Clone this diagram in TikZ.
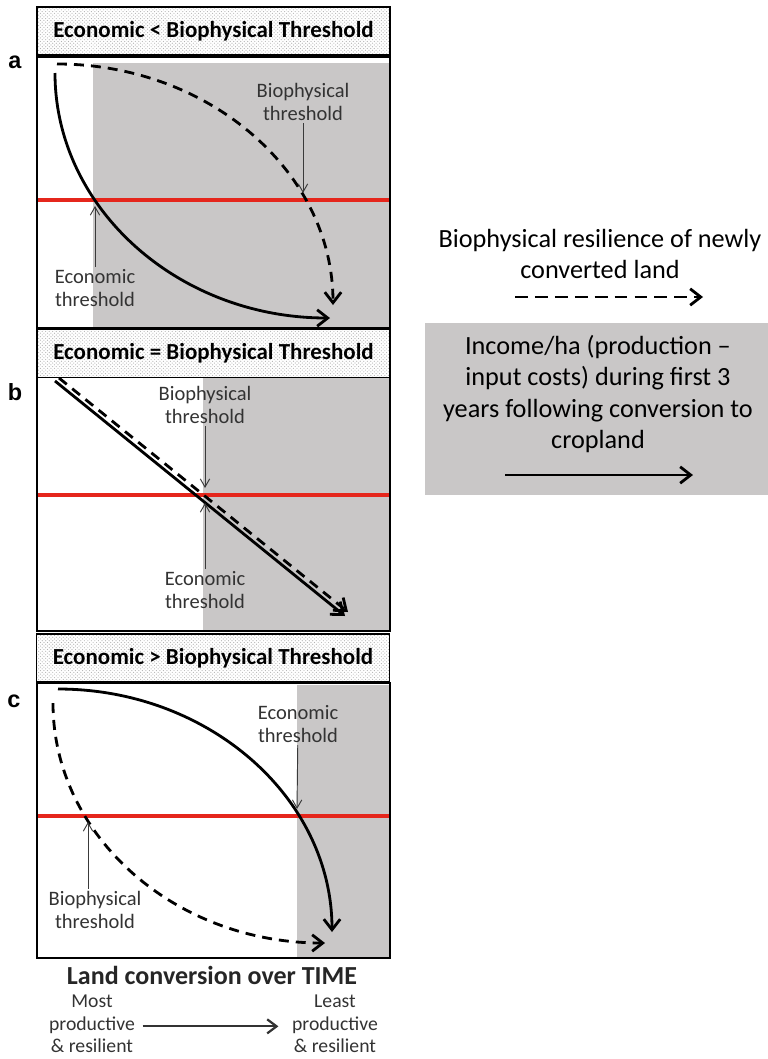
\documentclass[tikz,border=0pt]{standalone}
\usepackage{fontspec}
\setmainfont{Carlito}
\newfontfamily\letterfont{Liberation Sans}
\usetikzlibrary{arrows.meta,positioning,patterns}
\definecolor{cshade}{HTML}{C9C7C7}
\definecolor{cthresh}{HTML}{E5261C}
\definecolor{cpointer}{HTML}{3A3A3A}
\definecolor{clabel}{HTML}{333333}

\begin{document}
\begin{tikzpicture}[
    x=0.03cm, y=-0.03cm,
    titlebox/.style={draw=black, line width=1.6pt, preaction={fill=white},
                     pattern=crosshatch dots, pattern color=black!30,
                     minimum width=10.59cm, minimum height=1.44cm,
                     font=\fontsize{19.6}{22}\selectfont\bfseries},
    panel/.style={draw=black, line width=1.6pt},
    thresh/.style={draw=cthresh, line width=3pt},
    income/.style={-{Straight Barb[length=9pt,width=14pt]}, line width=2.4pt},
    resil/.style={income, dash pattern=on 8.5pt off 6pt},
    ptr/.style={-{Straight Barb[length=7pt,width=8pt]}, draw=cpointer, line width=0.8pt},
    lbl/.style={align=center, text=clabel, inner sep=2pt,
                font=\fontsize{17.5}{19.5}\selectfont},
    letter/.style={font=\letterfont\bfseries\fontsize{20}{22}\selectfont},
    legtext/.style={align=center, font=\fontsize{22.4}{26.6}\selectfont},
    axis/.style={font=\fontsize{22.2}{24}\selectfont\bfseries, text=black!85},
    ends/.style={align=center, text=clabel, inner sep=0.5pt,
                 font=\fontsize{16.8}{19}\selectfont}
]
\useasboundingbox (0,0) rectangle (768,1059);

% panel a
\fill[cshade] (93,63) rectangle (389,327);
\draw[thresh] (38,200) -- (389,200);
\coordinate (sa1) at (55,73);
\coordinate (ea1) at (330,318);
\draw[income] (sa1) .. controls (55,208) and (178,318) .. (ea1);
\coordinate (sa2) at (57,64);
\coordinate (ea2) at (333,305);
\draw[resil] (sa2) .. controls (209,64) and (333,172) .. (ea2);
\draw[panel] (37,57) rectangle (390,328);
\node[titlebox] (tta) at (213.5,31) {Economic < Biophysical Threshold};
\node[letter] (la) at (15,62) {a};
\node[lbl] (bioa) at (303,102) {Biophysical\\threshold};
\coordinate (bioa-tip) at (303,193);
\draw[ptr] (bioa) -- (bioa-tip);
\node[lbl] (ecoa) at (95,288) {Economic\\threshold};
\coordinate (ecoa-tip) at (95,206);
\draw[ptr] (ecoa) -- (ecoa-tip);

% panel b
\fill[cshade] (203,378) rectangle (389,630);
\draw[thresh] (38,495) -- (389,495);
\coordinate (sb1) at (55,381);
\coordinate (eb1) at (345,616);
\draw[income] (sb1) -- (eb1);
\coordinate (sb2) at (59,378);
\coordinate (eb2) at (348,612);
\draw[resil] (sb2) -- (eb2);
\draw[panel] (37,377) rectangle (390,631);
\node[titlebox] (ttb) at (213.5,353.5) {Economic = Biophysical Threshold};
\node[letter] (lb) at (15,392) {b};
\node[lbl] (biob) at (205,405) {Biophysical\\threshold};
\coordinate (biob-tip) at (205,488);
\draw[ptr] (biob) -- (biob-tip);
\node[lbl] (ecob) at (205,590) {Economic\\threshold};
\coordinate (ecob-tip) at (205,503);
\draw[ptr] (ecob) -- (ecob-tip);

% panel c
\fill[cshade] (297,685) rectangle (389,957);
\draw[thresh] (36,816) -- (389,816);
\coordinate (sc1) at (58,689);
\coordinate (ec1) at (332,932);
\draw[income] (sc1) .. controls (209,689) and (332,798) .. (ec1);
\coordinate (sc2) at (53,703);
\coordinate (ec2) at (325,943);
\draw[resil] (sc2) .. controls (53,836) and (175,943) .. (ec2);
\draw[panel] (37,683) rectangle (390,958);
\node[titlebox] (ttc) at (213,658) {Economic > Biophysical Threshold};
\node[letter] (lc) at (14,701) {c};
\node[lbl] (ecoc) at (298,724) {Economic\\threshold};
\coordinate (ecoc-tip) at (297,809);
\draw[ptr] (ecoc) -- (ecoc-tip);
\node[lbl] (bioc) at (95,910) {Biophysical\\threshold};
\coordinate (bioc-tip) at (88,822);
\draw[ptr] (bioc.north -| bioc-tip) -- (bioc-tip);

% time axis
\node[axis] (axis) at (212,975) {Land conversion over TIME};
\node[ends] (most) at (92,1024) {Most\\productive\\\& resilient};
\node[ends] (least) at (335,1024) {Least\\productive\\\& resilient};
\draw[-{Straight Barb[length=8pt,width=12pt]}, line width=1.9pt, draw=black!80,
      shorten <=6pt, shorten >=11pt]
    ([yshift=-2pt]most.east) -- ([yshift=-2pt]least.west);

% legend
\node[legtext] (legres) at (600,254) {Biophysical resilience of newly\\converted land};
\coordinate (lr1) at (515,297);
\coordinate (lr2) at (703,297);
\draw[resil, dash pattern=on 11pt off 6pt] (lr1) -- (lr2);
\fill[cshade] (425,323) rectangle (768,495);
\node[legtext] (leginc) at (598,394) {Income/ha (production --\\input costs) during first 3\\years following conversion to\\cropland};
\coordinate (li1) at (505,475);
\coordinate (li2) at (693,475);
\draw[income] (li1) -- (li2);
\end{tikzpicture}
\end{document}
